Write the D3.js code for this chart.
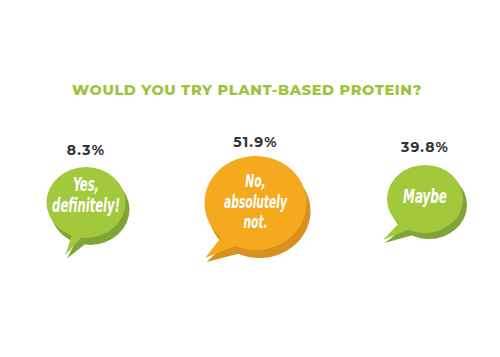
<!DOCTYPE html>
<html>
<head>
<meta charset="utf-8">
<script src="https://cdn.jsdelivr.net/npm/d3@7"></script>
<style>
  html, body { margin: 0; padding: 0; background: #ffffff; }
  svg { display: block; }
</style>
</head>
<body>
<svg id="chart" width="500" height="357"></svg>
<script>
// ---- data ----
const title = "WOULD YOU TRY PLANT-BASED PROTEIN?";
const categories = ["Yes, definitely!", "No, absolutely not.", "Maybe"];
const answerLines = [["Yes,", "definitely!"], ["No,", "absolutely", "not."], ["Maybe"]];
const values = [8.3, 51.9, 39.8];

// ---- layout / style (not data) ----
const bubbleStyle = [
  { cy: 202.5, rx: 39.5, ry: 35.5, fill: "#a2c83c", shade: "#7ea536", tip: [-20.5, 52.5], a1: 95, a2: 112, sh: [4, 7],
    lineH: 21, fs: 19, textY: 202, labelGap: 12 },
  { cy: 203, rx: 51, ry: 47, fill: "#f4a91e", shade: "#d8901f", tip: [-50.5, 55], a1: 110, a2: 133, sh: [4, 8],
    lineH: 20.5, fs: 17.5, textY: 208, labelGap: 9 },
  { cy: 199, rx: 38, ry: 34, fill: "#a2c83c", shade: "#7ea536", tip: [-42, 41], a1: 113, a2: 134, sh: [4, 6],
    lineH: 21, fs: 19.5, textY: 203, labelGap: 13 }
];
const squeeze = 0.68;

const svg = d3.select("#chart");

const x = d3.scalePoint().domain(categories).range([86, 425]);

svg.append("text")
  .attr("x", 247).attr("y", 95)
  .attr("text-anchor", "middle")
  .attr("font-family", "Montserrat, 'Open Sans', Lato, sans-serif")
  .attr("font-weight", 800)
  .attr("font-size", 14.5)
  .attr("letter-spacing", 0.6)
  .attr("fill", "#9dc43c")
  .text(title);

const data = categories.map((c, i) => ({ cat: c, value: values[i], lines: answerLines[i], s: bubbleStyle[i] }));

function bubblePath(d, dx, dy) {
  const cx = x(d.cat) + dx, cy = d.s.cy + dy;
  const rad = a => a * Math.PI / 180;
  const pt = a => [cx + 0.94 * d.s.rx * Math.cos(rad(a)), cy + 0.94 * d.s.ry * Math.sin(rad(a))];
  const p1 = pt(d.s.a1), p2 = pt(d.s.a2);
  const tip = [x(d.cat) + d.s.tip[0] + dx * 0.4, d.s.cy + d.s.tip[1] + dy * 0.5];
  return `M${p1[0]},${p1[1]} L${tip[0]},${tip[1]} L${p2[0]},${p2[1]} Z`;
}

const g = svg.selectAll("g.bubble").data(data).enter().append("g").attr("class", "bubble");

// shadow (disc thickness)
g.append("path").attr("d", d => bubblePath(d, d.s.sh[0], d.s.sh[1])).attr("fill", d => d.s.shade);
g.append("ellipse")
  .attr("cx", d => x(d.cat) + d.s.sh[0])
  .attr("cy", d => d.s.cy + d.s.sh[1])
  .attr("rx", d => d.s.rx)
  .attr("ry", d => d.s.ry)
  .attr("fill", d => d.s.shade);
// main
g.append("path").attr("d", d => bubblePath(d, 0, 0)).attr("fill", d => d.s.fill);
g.append("ellipse")
  .attr("cx", d => x(d.cat))
  .attr("cy", d => d.s.cy)
  .attr("rx", d => d.s.rx)
  .attr("ry", d => d.s.ry)
  .attr("fill", d => d.s.fill);

// answer text (condensed, slanted, white)
g.each(function(d) {
  const n = d.lines.length;
  const cx = x(d.cat);
  const t = d3.select(this).append("g")
    .attr("transform", `translate(${cx},0) scale(${squeeze},1)`)
    .append("text")
    .attr("text-anchor", "middle")
    .attr("font-family", "'DejaVu Sans Condensed', 'DejaVu Sans', sans-serif")
    .attr("font-style", "italic")
    .attr("font-weight", "bold")
    .attr("font-size", d.s.fs)
    .attr("fill", "#ffffff");
  d.lines.forEach((ln, k) => {
    t.append("tspan")
      .attr("x", 0)
      .attr("y", d.s.textY + (k - (n - 1) / 2) * d.s.lineH)
      .text(ln);
  });
});

// percentage labels
g.append("text")
  .attr("x", d => x(d.cat))
  .attr("y", d => d.s.cy - d.s.ry - d.s.labelGap)
  .attr("text-anchor", "middle")
  .attr("font-family", "Montserrat, 'Open Sans', Lato, sans-serif")
  .attr("font-weight", 700)
  .attr("font-size", 14)
  .attr("letter-spacing", 1.2)
  .attr("fill", "#333333")
  .text(d => d3.format(".1f")(d.value) + "%");
</script>
</body>
</html>
